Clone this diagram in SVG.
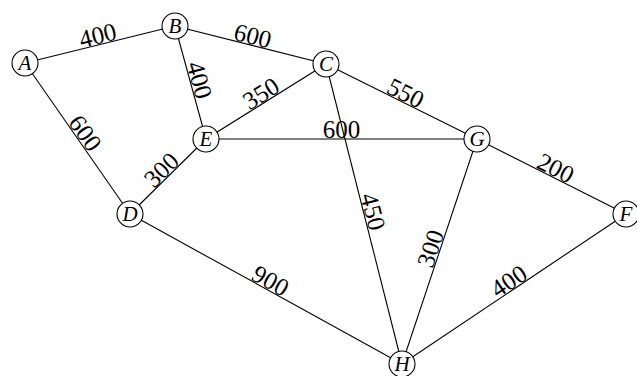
<svg xmlns="http://www.w3.org/2000/svg" width="637" height="376" viewBox="0 0 637 376">
<style>
.e{stroke:#000;stroke-width:1.1;fill:none}
.n{fill:#fff;stroke:#000;stroke-width:1.1}
.nl{font-family:"Liberation Serif",serif;font-style:italic;font-size:21px;text-anchor:middle;fill:#000}
.w{font-family:"Liberation Serif",serif;font-size:25px;text-anchor:middle;fill:#000}
</style>
<rect width="637" height="376" fill="#fff"/>
<g id="connectors">
<line class="e" x1="25" y1="63" x2="175" y2="26"/>
<line class="e" x1="175" y1="26" x2="326" y2="64"/>
<line class="e" x1="25" y1="63" x2="130" y2="214"/>
<line class="e" x1="175" y1="26" x2="206" y2="139"/>
<line class="e" x1="206" y1="139" x2="326" y2="64"/>
<line class="e" x1="130" y1="214" x2="206" y2="139"/>
<line class="e" x1="206" y1="139" x2="477" y2="139"/>
<line class="e" x1="326" y1="64" x2="477" y2="139"/>
<line class="e" x1="477" y1="139" x2="626" y2="214"/>
<line class="e" x1="326" y1="64" x2="402" y2="364"/>
<line class="e" x1="402" y1="364" x2="477" y2="139"/>
<line class="e" x1="130" y1="214" x2="402" y2="364"/>
<line class="e" x1="402" y1="364" x2="626" y2="214"/>
<text class="w" transform="translate(100,44.5) rotate(-13.86)" y="-1">400</text>
<text class="w" transform="translate(250.5,45) rotate(14.13)" y="-1">600</text>
<text class="w" transform="translate(77.5,138.5) rotate(55.19)" y="-1">600</text>
<text class="w" transform="translate(190.5,82.5) rotate(74.66)" y="-1">400</text>
<text class="w" transform="translate(266,101.5) rotate(-32.01)" y="-1">350</text>
<text class="w" transform="translate(168,176.5) rotate(-44.62)" y="-1">300</text>
<text class="w" transform="translate(341.5,139)" y="-1">600</text>
<text class="w" transform="translate(401.5,101.5) rotate(26.41)" y="-1">550</text>
<text class="w" transform="translate(551.5,176.5) rotate(26.72)" y="-1">200</text>
<text class="w" transform="translate(364,214) rotate(75.78)" y="-1">450</text>
<text class="w" transform="translate(439.5,251.5) rotate(-71.57)" y="-1">300</text>
<text class="w" transform="translate(266,289) rotate(28.88)" y="-1">900</text>
<text class="w" transform="translate(514,289) rotate(-33.81)" y="-1">400</text>
</g>
<g id="A"><circle class="n" cx="25" cy="63" r="13"/><text class="nl" x="25" y="70">A</text></g>
<g id="B"><circle class="n" cx="175" cy="26" r="13"/><text class="nl" x="175" y="33">B</text></g>
<g id="C"><circle class="n" cx="326" cy="64" r="13"/><text class="nl" x="326" y="71">C</text></g>
<g id="D"><circle class="n" cx="130" cy="214" r="13"/><text class="nl" x="130" y="221">D</text></g>
<g id="E"><circle class="n" cx="206" cy="139" r="13"/><text class="nl" x="206" y="146">E</text></g>
<g id="G"><circle class="n" cx="477" cy="139" r="13"/><text class="nl" x="477" y="146">G</text></g>
<g id="F"><circle class="n" cx="626" cy="214" r="13"/><text class="nl" x="626" y="221">F</text></g>
<g id="H"><circle class="n" cx="402" cy="364" r="13"/><text class="nl" x="402" y="371">H</text></g>
</svg>
